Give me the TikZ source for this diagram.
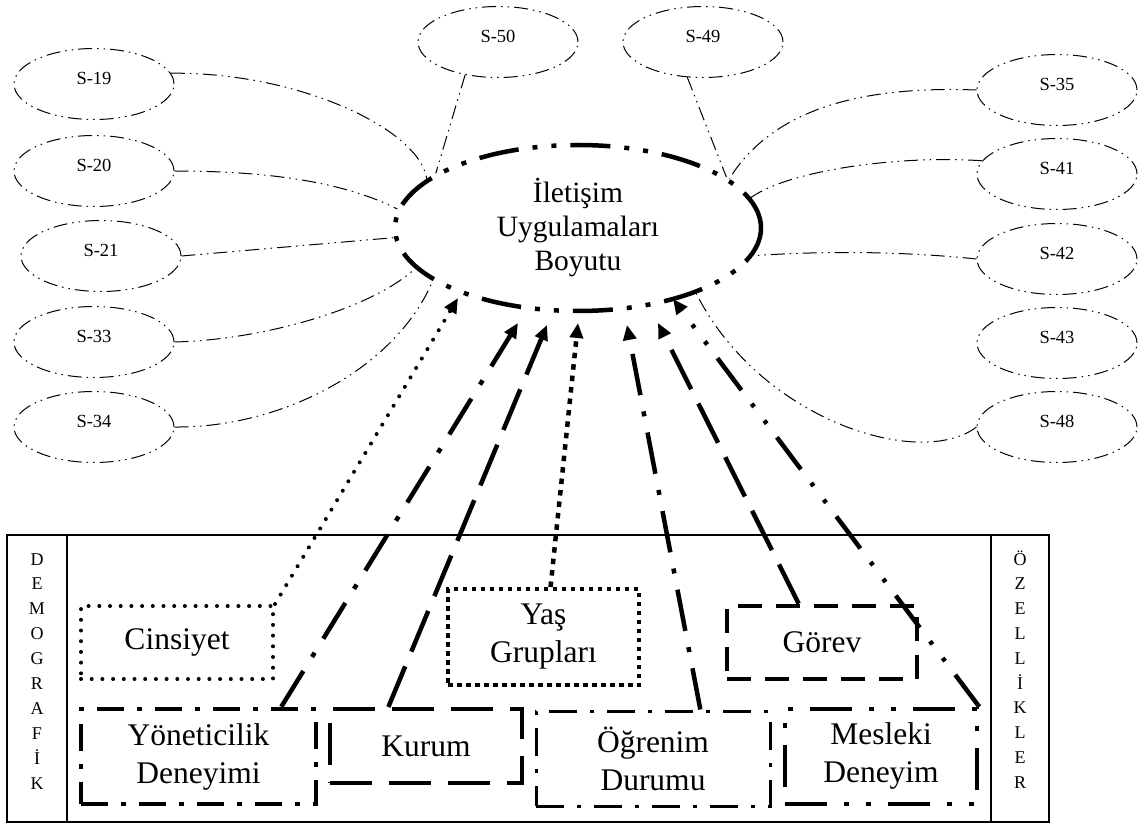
\documentclass[tikz,border=0pt]{standalone}
\usepackage{fontspec}
\setmainfont{Liberation Serif}
\usetikzlibrary{shapes.geometric,arrows.meta}
\begin{document}
\begin{tikzpicture}[x=1pt,y=-1pt,
  ddthin/.style={line width=1pt, dash pattern=on 14pt off 5pt on 1.5pt off 5pt on 1.5pt off 5pt},
  sitem/.style={ellipse, draw, ddthin, minimum width=160pt, minimum height=71pt, inner sep=0pt,
    font=\fontsize{18.5}{20}\selectfont, text height=13pt, text depth=12pt},
  hub/.style={ellipse, draw, line width=4.5pt,
    dash pattern=on 40pt off 14pt on 5pt off 14pt on 5pt off 14pt,
    minimum width=366pt, minimum height=166pt, inner sep=0pt, align=center,
    font=\fontsize{29.5}{34}\selectfont},
  factor/.style={rectangle, draw, inner sep=0pt, align=center, font=\fontsize{31.5}{38}\selectfont},
  bdots/.style={factor, line width=4pt, line cap=round, dash pattern=on 0pt off 10.7pt},
  bdashdot/.style={factor, line width=4.5pt, dash pattern=on 27pt off 13pt on 5pt off 13pt},
  bdash/.style={factor, line width=4pt, dash pattern=on 42pt off 17pt},
  bsquares/.style={factor, line width=4pt, dash pattern=on 4.5pt off 4.5pt},
  bdashdotthin/.style={factor, line width=3pt, dash pattern=on 28pt off 13pt on 4pt off 13pt},
  bdashshort/.style={factor, line width=4.5pt, dash pattern=on 24pt off 14pt},
  bdashdotdot/.style={factor, line width=4.5pt, dash pattern=on 42pt off 17pt on 5pt off 17pt on 5pt off 17pt},
  link/.style={-{Triangle[length=15pt,width=13pt]}},
  aDots/.style={link, line width=4pt, line cap=round, dash pattern=on 0pt off 11pt},
  aDashDot/.style={link, line width=4.5pt, dash pattern=on 42pt off 16.5pt on 5pt off 16.5pt},
  aDash/.style={link, line width=4.5pt, dash pattern=on 44pt off 16pt},
  aSquares/.style={link, line width=4.5pt, dash pattern=on 5.5pt off 6pt},
  aDashDotDot/.style={link, line width=4.5pt, dash pattern=on 40pt off 17pt on 4pt off 17pt on 4pt off 17pt},
  vletter/.style={anchor=base, inner sep=0pt, font=\fontsize{18}{18}\selectfont},
  frame/.style={line width=2pt},
  divider/.style={line width=1.5pt}
]
\path[use as bounding box, fill=white] (0,0) rectangle (1146,826);

% central dimension
\node[hub] (C) at (578,228) {İletişim\\Uygulamaları\\Boyutu};

% survey items
\node[sitem] (S19) at (94,84)  {S-19};
\node[sitem] (S20) at (94,171) {S-20};
\node[sitem] (S21) at (101,256) {S-21};
\node[sitem] (S33) at (94,342) {S-33};
\node[sitem] (S34) at (94,427) {S-34};
\node[sitem] (S50) at (498,42) {S-50};
\node[sitem] (S49) at (703,42) {S-49};
\node[sitem] (S35) at (1057,90)  {S-35};
\node[sitem] (S41) at (1057,174) {S-41};
\node[sitem] (S42) at (1057,259) {S-42};
\node[sitem] (S43) at (1057,343) {S-43};
\node[sitem] (S48) at (1057,427) {S-48};

% item links
\draw[ddthin] (S19.8) .. controls (300,72) and (420,130) .. (C.162);
\draw[ddthin] (S20.east) .. controls (280,171) and (350,185) .. (C.174);
\draw[ddthin] (S21.east) -- (C.183);
\draw[ddthin] (S33.east) .. controls (260,340) and (370,310) .. (C.194);
\draw[ddthin] (S34.east) .. controls (280,428) and (395,370) .. (C.200);
\draw[ddthin] (S50.225) -- (C.159);
\draw[ddthin] (S49.246) -- (C.19.5);
\draw[ddthin] (S35.west) .. controls (870,86) and (775,105) .. (C.18);
\draw[ddthin] (S41.170) .. controls (900,155) and (790,170) .. (C.10.6);
\draw[ddthin] (S42.west) .. controls (900,251) and (820,251) .. (C.351);
\draw[ddthin] (S48.west) .. controls (920,470) and (760,420) .. (C.331.4);

% demographic frame
\draw[frame] (7,535) rectangle (1049,822);
\draw[divider] (67,535) -- (67,822);
\draw[divider] (991,535) -- (991,822);
\foreach \ch [count=\i] in {D,E,M,O,G,R,A,F,İ,K}
  {\node[vletter] (dem\i) at (37,{565+(\i-1)*24.9}) {\ch};}
\foreach \ch [count=\i] in {Ö,Z,E,L,L,İ,K,L,E,R}
  {\node[vletter] (oz\i) at (1020,{565+(\i-1)*24.8}) {\ch};}

% demographic variables
\node[bdots, minimum width=192pt, minimum height=73pt] (Cin) at (177,642.5) {Cinsiyet};
\node[bdashdot, minimum width=235pt, minimum height=95pt] (Yon) at (198.5,756.5) {Yöneticilik\\Deneyimi};
\node[bdash, minimum width=192pt, minimum height=74pt] (Kur) at (426,746) {Kurum};
\node[bsquares, minimum width=191pt, minimum height=96pt, text depth=8pt] (Yas) at (543.5,637) {Yaş\\Grupları};
\node[bdashdotthin, minimum width=234pt, minimum height=95pt] (Ogr) at (653,758.5) {Öğrenim\\Durumu};
\node[bdashshort, minimum width=190pt, minimum height=73pt] (Gor) at (822,642.5) {Görev};
\node[bdashdotdot, minimum width=192pt, minimum height=95pt, text depth=8pt] (Mes) at (881,756.5) {Mesleki\\Deneyim};

% arrow tips below the central dimension
\coordinate (tCin) at (458,298);
\coordinate (tYon) at (518,323);
\coordinate (tKur) at (547,325);
\coordinate (tYas) at (578,323);
\coordinate (tOgr) at (627,325);
\coordinate (tGor) at (658,323);
\coordinate (tMes) at (673,299);

\draw[aDots] (Cin.north east) -- (tCin);
\draw[aDashDot] (Yon.31.8) -- (tYon);
\draw[aDash] (Kur.134.2) -- (tKur);
\draw[aSquares] (Yas.82.3) -- (tYas);
\draw[aDashDot] (Ogr.46.5) -- (tOgr);
\draw[aDash] (Gor.121) -- (tGor);
\draw[aDashDotDot] (Mes.north east) -- (tMes);
\end{tikzpicture}
\end{document}
